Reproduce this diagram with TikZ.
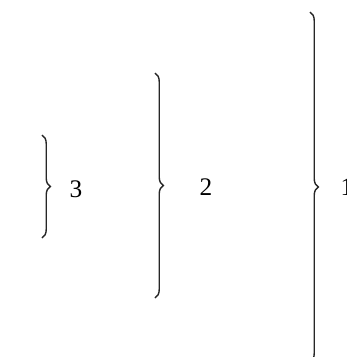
\documentclass[tikz,border=0pt]{standalone}
\usepackage{fontspec}
\setmainfont{Liberation Serif}
\usetikzlibrary{decorations.pathreplacing}

\begin{document}
\begin{tikzpicture}[x=0.025cm,y=-0.025cm,
  curly/.style={line width=1pt,draw=black!85,decorate,decoration={brace,amplitude=6}},
  number/.style={font=\fontsize{18}{20}\selectfont,inner sep=0pt}]
\useasboundingbox (0,0) rectangle (347,357);
\clip (0,0) rectangle (347,357);
\coordinate (top3) at (42,135);
\coordinate (bot3) at (42,238);
\coordinate (top2) at (155,73);
\coordinate (bot2) at (155,298);
\coordinate (top1) at (310,12);
\coordinate (bot1) at (310,362);
\draw[curly] (top3) -- (bot3);
\draw[curly] (top2) -- (bot2);
\draw[curly] (top1) -- (bot1);
\node[number] (lab3) at (76,189) {3};
\node[number] (lab2) at (206,187) {2};
\node[number] (lab1) at (347,187) {1};
\end{tikzpicture}
\end{document}
